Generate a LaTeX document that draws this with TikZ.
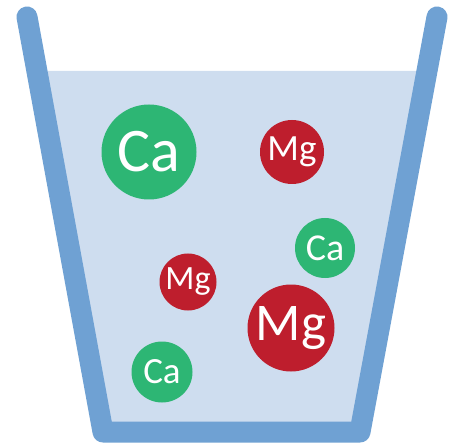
\documentclass[tikz,border=0pt]{standalone}
\usepackage{fontspec}
\setmainfont{Carlito}
\usepackage{tikz}

\definecolor{glassblue}{HTML}{6FA1D3}
\definecolor{water}{HTML}{CEDDEF}
\definecolor{cagreen}{HTML}{2DB674}
\definecolor{mgred}{HTML}{BE1E2D}

\begin{document}
\begin{tikzpicture}[
        x=1pt, y=-1pt,
        ion/.style={circle, inner sep=0pt, text=white},
        ca/.style={ion, fill=cagreen},
        mg/.style={ion, fill=mgred},
        glass/.style={draw=glassblue, line width=21pt, line cap=round, line join=round}
    ]
    \useasboundingbox (0,0) rectangle (449,443);

    % water and glass
    \fill [water] (37,71) -- (427,71) -- (360,432) -- (103,432) -- cycle;
    \draw [glass] (27,17) -- (103,432) -- (360,432) -- (437,17);

    % ions
    \node (ca1) [ca, minimum size=95pt, font=\fontsize{62}{62}\selectfont] at (149,152) {Ca};
    \node (mg1) [mg, minimum size=64pt, font=\fontsize{37}{37}\selectfont] at (292,152) {Mg};
    \node (ca2) [ca, minimum size=60pt, font=\fontsize{38}{38}\selectfont] at (325,248) {Ca};
    \node (mg2) [mg, minimum size=57pt, font=\fontsize{34}{34}\selectfont] at (188,282) {Mg};
    \node (mg3) [mg, minimum size=87pt, font=\fontsize{53}{53}\selectfont] at (291,328) {Mg};
    \node (ca3) [ca, minimum size=61pt, font=\fontsize{37}{37}\selectfont] at (162,372) {Ca};

\end{tikzpicture}
\end{document}
